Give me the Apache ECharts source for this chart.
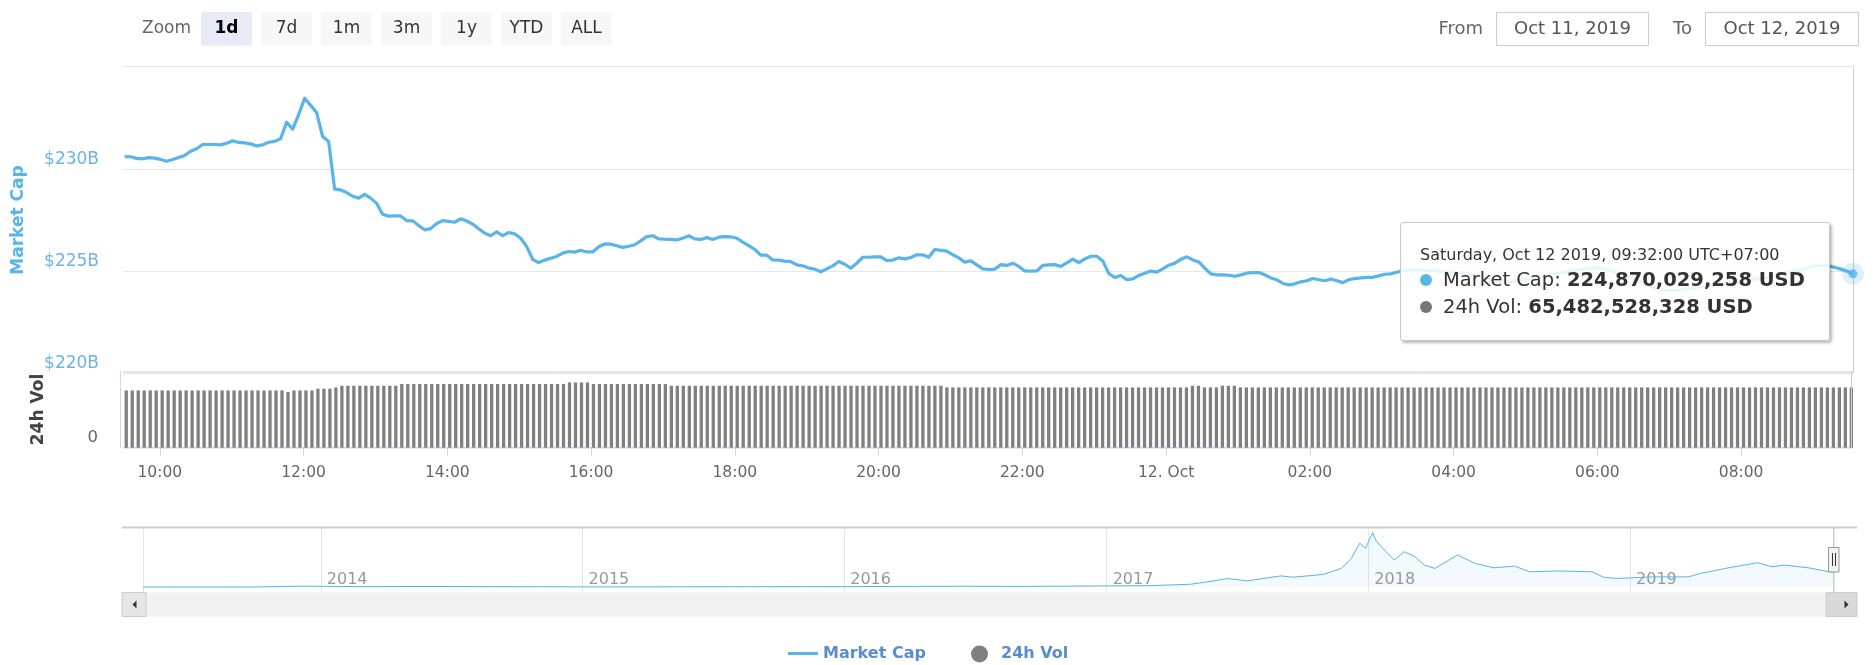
<!DOCTYPE html>
<html>
<head>
<meta charset="utf-8">
<script src="https://cdn.jsdelivr.net/npm/echarts@6/dist/echarts.min.js"></script>
<style>
html,body{margin:0;padding:0;background:#fff;}
#chart{width:1874px;height:665px;}
</style>
</head>
<body>
<div id="chart"></div>
<script>
// ---------------- DATA ----------------
// 5-minute slots, wall clock of the source (UTC+07:00), first slot 2019-10-11 09:32
const START = { y: 2019, mo: 9, d: 11, h: 9, mi: 32 };
const STEP_MINUTES = 5;

// Market cap, billions USD, one value per 5-minute slot (289 slots)
const marketCapB = [
  230.60,230.59,230.51,230.49,230.55,230.52,230.46,230.37,230.46,230.55,
  230.65,230.86,230.98,231.19,231.19,231.19,231.17,231.25,231.37,231.29,
  231.27,231.22,231.12,231.17,231.30,231.34,231.47,232.28,231.94,232.64,
  233.45,233.10,232.74,231.58,231.34,229.01,228.97,228.84,228.66,228.57,
  228.75,228.57,228.31,227.78,227.69,227.70,227.70,227.47,227.46,227.23,
  227.02,227.08,227.33,227.47,227.43,227.39,227.56,227.45,227.30,227.07,
  226.86,226.73,226.92,226.74,226.89,226.82,226.61,226.20,225.58,225.42,
  225.54,225.63,225.72,225.88,225.96,225.93,226.02,225.94,225.94,226.19,
  226.33,226.32,226.24,226.16,226.22,226.29,226.48,226.69,226.73,226.58,
  226.56,226.55,226.53,226.61,226.73,226.58,226.55,226.64,226.55,226.66,
  226.69,226.68,226.61,226.42,226.25,226.07,225.78,225.78,225.55,225.54,
  225.49,225.47,225.31,225.26,225.15,225.10,224.97,225.11,225.26,225.47,
  225.34,225.14,225.39,225.68,225.68,225.70,225.70,225.52,225.54,225.65,
  225.60,225.67,225.80,225.80,225.68,226.06,226.02,225.98,225.80,225.65,
  225.44,225.50,225.31,225.11,225.08,225.10,225.32,225.28,225.39,225.23,
  225.01,225.00,225.01,225.28,225.31,225.32,225.23,225.41,225.59,225.42,
  225.60,225.73,225.73,225.50,224.88,224.69,224.79,224.58,224.62,224.79,
  224.90,225.01,224.95,225.11,225.29,225.39,225.58,225.70,225.55,225.45,
  225.14,224.87,224.82,224.82,224.80,224.75,224.82,224.90,224.93,224.93,
  224.82,224.67,224.58,224.40,224.33,224.38,224.48,224.53,224.64,224.58,
  224.53,224.62,224.53,224.44,224.59,224.64,224.67,224.70,224.70,224.77,
  224.85,224.87,224.95,225.03,225.05,225.08,225.05,225.02,225.04,225.00,
  224.98,224.95,224.93,224.90,224.86,224.82,224.75,224.66,224.58,224.50,
  224.45,224.48,224.52,224.58,224.63,224.68,224.74,224.80,224.86,224.90,
  224.95,225.00,225.06,225.10,225.13,225.16,225.14,225.07,224.98,224.90,
  224.80,224.68,224.55,224.42,224.30,224.18,224.10,224.05,224.06,224.08,
  224.12,224.16,224.20,224.25,224.30,224.35,224.38,224.42,224.46,224.50,
  224.53,224.57,224.62,224.66,224.70,224.76,224.84,224.92,224.99,225.05,
  225.12,225.20,225.28,225.29,225.26,225.18,225.10,225.00,224.870029258
];

// 24h volume, billions USD, one value per 5-minute slot (289 slots)
const volumeB = [
  62.2,62.2,62.2,62.2,62.2,62.2,62.2,62.2,62.2,62.2,
  62.2,62.2,62.2,62.2,62.2,62.2,62.2,62.2,62.2,62.2,
  62.2,62.2,62.2,62.2,62.2,62.2,62.2,60.4,62.2,62.2,
  62.2,62.2,64.1,64.1,64.1,65.5,67.3,67.3,67.3,67.3,
  67.3,67.3,67.3,67.3,67.3,67.3,69.2,69.2,69.2,69.2,
  69.2,69.2,69.2,69.2,69.2,69.2,69.2,69.2,69.2,69.2,
  69.2,69.2,69.2,69.2,69.2,69.2,69.2,69.2,69.2,69.2,
  69.2,69.2,69.2,69.2,70.9,70.9,70.9,70.9,69.2,69.2,
  69.2,69.2,69.2,69.2,69.2,69.2,69.2,69.2,69.2,69.2,
  69.2,67.3,67.3,67.3,67.3,67.3,67.3,67.3,67.3,67.3,
  67.3,67.3,67.3,67.3,67.3,67.3,67.3,67.3,67.3,67.3,
  67.3,67.3,67.3,67.3,67.3,67.3,67.3,67.3,67.3,67.3,
  67.3,67.3,67.3,67.3,67.3,67.3,67.3,67.3,67.3,67.3,
  67.3,67.3,67.3,67.3,67.3,67.3,67.3,65.5,65.5,65.5,
  65.5,65.5,65.5,65.5,65.5,65.5,65.5,65.5,65.5,65.5,
  65.5,65.5,65.5,65.5,65.5,65.5,65.5,65.5,65.5,65.5,
  65.5,65.5,65.5,65.5,65.5,65.5,65.5,65.5,65.5,65.5,
  65.5,65.5,65.5,65.5,65.5,65.5,65.5,65.5,67.3,67.3,
  65.5,65.5,65.5,67.3,67.3,67.3,65.5,65.5,65.5,65.5,
  65.5,65.5,65.5,65.5,65.5,65.5,65.5,65.5,65.5,65.5,
  65.5,65.5,65.5,65.5,65.5,65.5,65.5,65.5,65.5,65.5,
  65.5,65.5,65.5,65.5,65.5,65.5,65.5,65.5,65.5,65.5,
  65.5,65.5,65.5,65.5,65.5,65.5,65.5,65.5,65.5,65.5,
  65.5,65.5,65.5,65.5,65.5,65.5,65.5,65.5,65.5,65.5,
  65.5,65.5,65.5,65.5,65.5,65.5,65.5,65.5,65.5,65.5,
  65.5,65.5,65.5,65.5,65.5,65.5,65.5,65.5,65.5,65.5,
  65.5,65.5,65.5,65.5,65.5,65.5,65.5,65.5,65.5,65.5,
  65.5,65.5,65.5,65.5,65.5,65.5,65.5,65.5,65.5,65.5,
  65.5,65.5,65.5,65.5,65.5,65.5,65.5,65.5,65.482528328
];

// Navigator: total market cap history, billions USD
const navDates = ['2013-04-28','2013-07-05','2013-10-01','2013-12-04','2014-01-05','2014-02-25','2014-06-01','2014-09-01',
  '2015-01-14','2015-06-01','2015-11-04','2016-01-01','2016-06-17','2016-09-01','2017-01-01','2017-03-01','2017-04-28',
  '2017-05-25','2017-06-18','2017-07-16','2017-09-01','2017-09-18','2017-10-30','2017-11-24','2017-12-08','2017-12-20',
  '2017-12-28','2018-01-07','2018-01-12','2018-01-19','2018-02-06','2018-02-20','2018-03-07','2018-03-20','2018-04-04',
  '2018-05-05','2018-05-30','2018-06-25','2018-07-24','2018-08-14','2018-09-21','2018-11-09','2018-11-25','2018-12-13',
  '2019-02-01','2019-03-23','2019-04-09','2019-05-21','2019-06-28','2019-07-18','2019-08-04','2019-09-07','2019-10-06',
  '2019-10-12'];
const navCapB = [1.6,0.9,1.6,14,11,7,8.5,6.8,
  2.9,3.9,6.9,7.0,12.5,9.7,17.7,21,43,
  85,130,94,170,150,192,284,430,667,
  590,830,700,615,411,538,462,334,284,
  488,360,293,319,232,245,232,150,130,
  155,155,207,299,370,309,334,293,232,
  225];

const capAxis = { min: 220, max: 235, step: 5 };     // $220B .. $235B
const rangeButtons = ['1d','7d','1m','3m','1y','YTD','ALL'];
const fromText = 'Oct 11, 2019';
const toText = 'Oct 12, 2019';
const monthNames = ['Jan','Feb','Mar','Apr','May','Jun','Jul','Aug','Sep','Oct','Nov','Dec'];
const dayNames = ['Sunday','Monday','Tuesday','Wednesday','Thursday','Friday','Saturday'];

// ---------------- BUILD ----------------
const FONT = '"DejaVu Sans", Verdana, sans-serif';
const BLUE = '#58b4ea';
const GRAY_BAR = '#808080';
const HOUR = 3600000;
const slotTime = i => new Date(START.y, START.mo, START.d, START.h, START.mi + STEP_MINUTES * i).getTime();
const last = marketCapB.length - 1;
const lastT = slotTime(last);
const mcData = marketCapB.map((v, i) => [slotTime(i), v]);
const volData = volumeB.map((v, i) => [slotTime(i), v]);
const navData = navDates.map((d, i) => [d, navCapB[i]]);
const xMin = new Date(START.y, START.mo, START.d, START.h, START.mi - 2, 40).getTime();
const pad2 = n => (n < 10 ? '0' : '') + n;

function tipHtml() {
  const d = new Date(lastT);
  const header = dayNames[d.getDay()] + ', ' + monthNames[d.getMonth()] + ' ' + d.getDate() + ' ' + d.getFullYear() +
    ', ' + pad2(d.getHours()) + ':' + pad2(d.getMinutes()) + ':' + pad2(d.getSeconds()) + ' UTC+07:00';
  const cap = Math.round(marketCapB[last] * 1e9).toLocaleString('en-US');
  const vol = Math.round(volumeB[last] * 1e9).toLocaleString('en-US');
  const dot = c => '<span style="display:inline-block;width:12px;height:12px;border-radius:6px;background:' + c +
    ';margin-right:11px;vertical-align:baseline;"></span>';
  return '<div style="width:390px;padding:20px 19px 20px 19px;font-family:' + FONT.replace(/"/g, "'") + ';color:#333;">' +
    '<div style="font-size:16px;line-height:23px;white-space:nowrap;">' + header + '</div>' +
    '<div style="font-size:19.5px;line-height:27px;white-space:nowrap;">' + dot(BLUE) + 'Market Cap: <b>' + cap + ' USD</b></div>' +
    '<div style="font-size:19.5px;line-height:27px;white-space:nowrap;">' + dot('#777') + '24h Vol: <b>' + vol + ' USD</b></div>' +
    '</div>';
}

const graphics = [];
graphics.push({ type: 'text', x: 191, y: 29, z: 10,
  style: { text: 'Zoom', align: 'right', verticalAlign: 'middle', font: '17px ' + FONT, fill: '#666' } });
rangeButtons.forEach((b, i) => {
  const x0 = 201 + 60 * i;
  graphics.push({ type: 'rect', z: 10, shape: { x: x0, y: 12, width: 51, height: 33.5, r: 2 },
    style: { fill: i === 0 ? '#e6ebf5' : '#f7f7f7' } });
  graphics.push({ type: 'text', x: x0 + 25.5, y: 29, z: 11,
    style: { text: b, align: 'center', verticalAlign: 'middle',
      font: (i === 0 ? 'bold ' : '') + '17px ' + FONT, fill: i === 0 ? '#000' : '#333' } });
});
graphics.push({ type: 'text', x: 1483, y: 29, z: 10,
  style: { text: 'From', align: 'right', verticalAlign: 'middle', font: '18px ' + FONT, fill: '#666' } });
graphics.push({ type: 'rect', z: 10, shape: { x: 1496.5, y: 12.5, width: 152, height: 33 },
  style: { fill: '#fff', stroke: '#ccc', lineWidth: 1 } });
graphics.push({ type: 'text', x: 1572.5, y: 29, z: 11,
  style: { text: fromText, align: 'center', verticalAlign: 'middle', font: '18px ' + FONT, fill: '#555' } });
graphics.push({ type: 'text', x: 1692, y: 29, z: 10,
  style: { text: 'To', align: 'right', verticalAlign: 'middle', font: '18px ' + FONT, fill: '#666' } });
graphics.push({ type: 'rect', z: 10, shape: { x: 1705.5, y: 12.5, width: 153, height: 33 },
  style: { fill: '#fff', stroke: '#ccc', lineWidth: 1 } });
graphics.push({ type: 'text', x: 1782, y: 29, z: 11,
  style: { text: toText, align: 'center', verticalAlign: 'middle', font: '18px ' + FONT, fill: '#555' } });
// navigator outline, handle, scrollbar
graphics.push({ type: 'line', z: 10, shape: { x1: 122, y1: 527.5, x2: 1857, y2: 527.5 }, style: { stroke: '#ccc', lineWidth: 2 } });
graphics.push({ type: 'line', z: 10, shape: { x1: 1833.5, y1: 527.5, x2: 1833.5, y2: 592 }, style: { stroke: '#ccc', lineWidth: 1 } });
graphics.push({ type: 'rect', z: 12, shape: { x: 1828.5, y: 547.5, width: 10.5, height: 24.5 }, style: { fill: '#f2f2f2', stroke: '#999', lineWidth: 1 } });
graphics.push({ type: 'line', z: 13, shape: { x1: 1832.5, y1: 553, x2: 1832.5, y2: 566 }, style: { stroke: '#333', lineWidth: 1 } });
graphics.push({ type: 'line', z: 13, shape: { x1: 1835.5, y1: 553, x2: 1835.5, y2: 566 }, style: { stroke: '#333', lineWidth: 1 } });
graphics.push({ type: 'rect', z: 10, shape: { x: 122, y: 592.5, width: 1735, height: 24 }, style: { fill: '#f2f2f2' } });
graphics.push({ type: 'rect', z: 11, shape: { x: 122, y: 592.5, width: 24, height: 24 }, style: { fill: '#e6e6e6', stroke: '#ccc', lineWidth: 1 } });
graphics.push({ type: 'polygon', z: 12, shape: { points: [[136.5, 600.5], [136.5, 608.5], [132.5, 604.5]] }, style: { fill: '#333' } });
graphics.push({ type: 'rect', z: 11, shape: { x: 1826, y: 592.5, width: 31, height: 24 }, style: { fill: '#d9d9d9', stroke: '#ccc', lineWidth: 1 } });
graphics.push({ type: 'polygon', z: 12, shape: { points: [[1844.5, 600.5], [1844.5, 608.5], [1848.5, 604.5]] }, style: { fill: '#333' } });

const crossLine = {
  silent: true, symbol: 'none', label: { show: false }, animation: false,
  lineStyle: { color: '#ccc', width: 1, type: 'solid' },
  emphasis: { disabled: true },
  data: [{ xAxis: lastT }]
};

const option = {
  animation: false,
  backgroundColor: '#fff',
  textStyle: { fontFamily: FONT },
  grid: [
    { left: 123, right: 21, top: 66.5, height: 307 },
    { left: 123, right: 21, top: 371.3, height: 76.4 },
    { left: 143, right: 40, top: 527.5, height: 64.5 }
  ],
  xAxis: [
    { type: 'time', gridIndex: 0, min: xMin, max: lastT, show: false,
      minInterval: 2.5 * HOUR, maxInterval: 3 * HOUR },
    { type: 'time', gridIndex: 1, min: xMin, max: lastT,
      minInterval: 2.5 * HOUR, maxInterval: 3 * HOUR, splitNumber: 9,
      axisLine: { show: true, lineStyle: { color: '#ccd6eb', width: 1 } },
      axisTick: { show: true, length: 8, lineStyle: { color: '#ccd6eb' } },
      splitLine: { show: false },
      axisLabel: {
        color: '#666', fontSize: 15.5, fontFamily: FONT, margin: 17, hideOverlap: false,
        formatter: v => {
          const d = new Date(v);
          if (d.getHours() === 0 && d.getMinutes() === 0) return d.getDate() + '. ' + monthNames[d.getMonth()];
          return pad2(d.getHours()) + ':' + pad2(d.getMinutes());
        }
      } },
    { type: 'time', gridIndex: 2, min: '2013-04-28', max: lastT,
      minInterval: 365 * 86400000,
      axisLine: { show: false }, axisTick: { show: false },
      splitLine: { show: true, lineStyle: { color: '#e6e6e6', width: 1 } },
      axisLabel: { inside: true, color: '#999', fontSize: 16, fontFamily: FONT, align: 'left',
        padding: [0, 0, 0, 6], margin: 4, formatter: v => String(new Date(v).getFullYear()) } }
  ],
  yAxis: [
    { type: 'value', gridIndex: 0, min: capAxis.min, max: capAxis.max, interval: capAxis.step,
      name: 'Market Cap', nameLocation: 'middle', nameGap: 96,
      nameTextStyle: { color: BLUE, fontWeight: 'bold', fontSize: 17, fontFamily: FONT },
      axisLine: { show: false }, axisTick: { show: false },
      splitLine: { show: true, lineStyle: { color: '#e6e6e6', width: 1 } },
      axisLabel: { color: '#6db3e6', fontSize: 17, fontFamily: FONT, margin: 24, showMaxLabel: false,
        verticalAlign: 'bottom', padding: [0, 0, 1, 0], formatter: v => '$' + v + 'B' } },
    { type: 'value', gridIndex: 1, min: 0, max: 83, interval: 83, offset: 3,
      name: '24h Vol', nameLocation: 'middle', nameGap: 73,
      nameTextStyle: { color: '#444', fontWeight: 'bold', fontSize: 17, fontFamily: FONT },
      axisLine: { show: true, lineStyle: { color: '#ccd6eb', width: 1 } }, axisTick: { show: false },
      splitLine: { show: true, lineStyle: { color: '#e6e6e6', width: 2 } },
      axisLabel: { color: '#666', fontSize: 16.5, fontFamily: FONT, margin: 22, showMaxLabel: false,
        verticalAlign: 'bottom', padding: [0, 0, 1, 0] } },
    { type: 'value', gridIndex: 2, min: -75, max: 906, show: false }
  ],
  legend: [
    { data: [{ name: 'Market Cap', icon: 'rect' }], left: 783, top: 640.5, itemWidth: 30, itemHeight: 3,
      selectedMode: false, textStyle: { color: '#5b8ccf', fontWeight: 'bold', fontSize: 16, fontFamily: FONT } },
    { data: [{ name: '24h Vol', icon: 'circle' }], left: 966, top: 640.5, itemWidth: 17, itemHeight: 17,
      selectedMode: false, textStyle: { color: '#5b8ccf', fontWeight: 'bold', fontSize: 16, fontFamily: FONT, padding: [0, 0, 0, 8] } }
  ],
  tooltip: {
    trigger: 'item', triggerOn: 'none', alwaysShowContent: true, position: [1400, 222],
    padding: 0, backgroundColor: 'rgba(255,255,255,0.86)', borderColor: '#c8c8c8', borderWidth: 1, borderRadius: 3,
    transitionDuration: 0, extraCssText: 'box-shadow:2px 2px 3px rgba(0,0,0,0.28);',
    formatter: () => tipHtml()
  },
  graphic: graphics,
  series: [
    { name: 'Market Cap', type: 'line', xAxisIndex: 0, yAxisIndex: 0, data: mcData,
      showSymbol: false, symbol: 'none', silent: true, z: 3,
      lineStyle: { width: 3.2, color: BLUE, join: 'round' }, itemStyle: { color: BLUE },
      markLine: crossLine },
    { name: '24h Vol', type: 'bar', xAxisIndex: 1, yAxisIndex: 1, data: volData,
      barWidth: 3.3, silent: true, itemStyle: { color: GRAY_BAR },
      markLine: crossLine },
    { name: 'navigator', type: 'line', xAxisIndex: 2, yAxisIndex: 2, data: navData,
      symbol: 'none', silent: true, lineStyle: { width: 1, color: BLUE },
      areaStyle: { color: 'rgba(88,180,234,0.1)' } },
    { name: 'halo', type: 'scatter', xAxisIndex: 0, yAxisIndex: 0, clip: false, z: 5,
      data: [[lastT, marketCapB[last]]], symbolSize: 22, itemStyle: { color: 'rgba(88,180,234,0.25)' } },
    { name: 'point', type: 'scatter', xAxisIndex: 0, yAxisIndex: 0, clip: false, z: 6,
      data: [[lastT, marketCapB[last]]], symbolSize: 9, itemStyle: { color: BLUE } }
  ]
};

const chart = echarts.init(document.getElementById('chart'), null, { renderer: 'canvas' });
chart.setOption(option);
chart.dispatchAction({ type: 'showTip', seriesIndex: 4, dataIndex: 0 });
</script>
</body>
</html>
